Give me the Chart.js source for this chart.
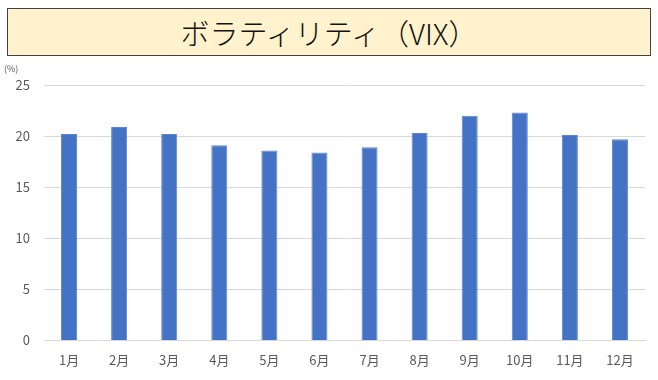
<!DOCTYPE html>
<html>
<head>
<meta charset="utf-8">
<script src="https://cdn.jsdelivr.net/npm/chart.js@4"></script>
<style>
  body { margin: 0; background: #fff; }
  .wrap { position: relative; width: 658px; height: 380px; }
  .title-box {
    position: absolute; left: 7px; top: 8px; width: 642px; height: 46px;
    background: #FFF2CC; border: 1px solid #404040;
    font-family: "Noto Sans CJK JP", sans-serif; font-size: 29px; font-weight: 300;
    color: #111; text-align: center; line-height: 46px;
  }
  .unit {
    position: absolute; left: 4px; top: 62px;
    font-family: "Noto Sans CJK JP", sans-serif; font-size: 9px; color: #595959;
  }
  canvas { position: absolute; left: 0; top: 0; }
</style>
</head>
<body>
<div class="wrap">
  <canvas id="vixChart" width="658" height="380"></canvas>
  <div class="title-box">ボラティリティ（VIX）</div>
  <div class="unit">(%)</div>
</div>
<script>
const months = ['1月', '2月', '3月', '4月', '5月', '6月', '7月', '8月', '9月', '10月', '11月', '12月'];
const vixValues = [20.2, 20.9, 20.2, 19.1, 18.6, 18.4, 18.9, 20.3, 22.0, 22.3, 20.1, 19.7];
const yTicks = [0, 5, 10, 15, 20, 25];

const ctx = document.getElementById('vixChart').getContext('2d');
new Chart(ctx, {
    type: 'bar',
    data: {
        labels: months,
        datasets: [
            {
                label: 'VIX',
                data: vixValues,
                backgroundColor: '#4472C4',
                borderColor: '#5B86D4',
                borderWidth: 1,
                barPercentage: 0.32,
                categoryPercentage: 1,
            },
        ],
    },
    options: {
        responsive: false,
        animation: false,
        layout: { padding: { top: 85, right: 13, bottom: 0, left: 0 } },
        plugins: {
            legend: { display: false },
            tooltip: { enabled: false },
        },
        scales: {
            x: {
                grid: { display: false, drawTicks: false },
                border: { color: '#D9D9D9' },
                ticks: {
                    color: '#595959',
                    padding: 12,
                    font: { family: '"Noto Sans CJK JP", sans-serif', size: 13 },
                },
            },
            y: {
                min: 0,
                max: 25,
                afterFit: (axis) => { axis.width = 44; },
                afterBuildTicks: (axis) => { axis.ticks = yTicks.map(v => ({ value: v })); },
                grid: { color: '#D9D9D9', drawTicks: false },
                border: { display: false },
                ticks: {
                    color: '#595959',
                    padding: 14,
                    font: { family: '"Noto Sans CJK JP", sans-serif', size: 13 },
                },
            },
        },
    },
});
</script>
</body>
</html>
